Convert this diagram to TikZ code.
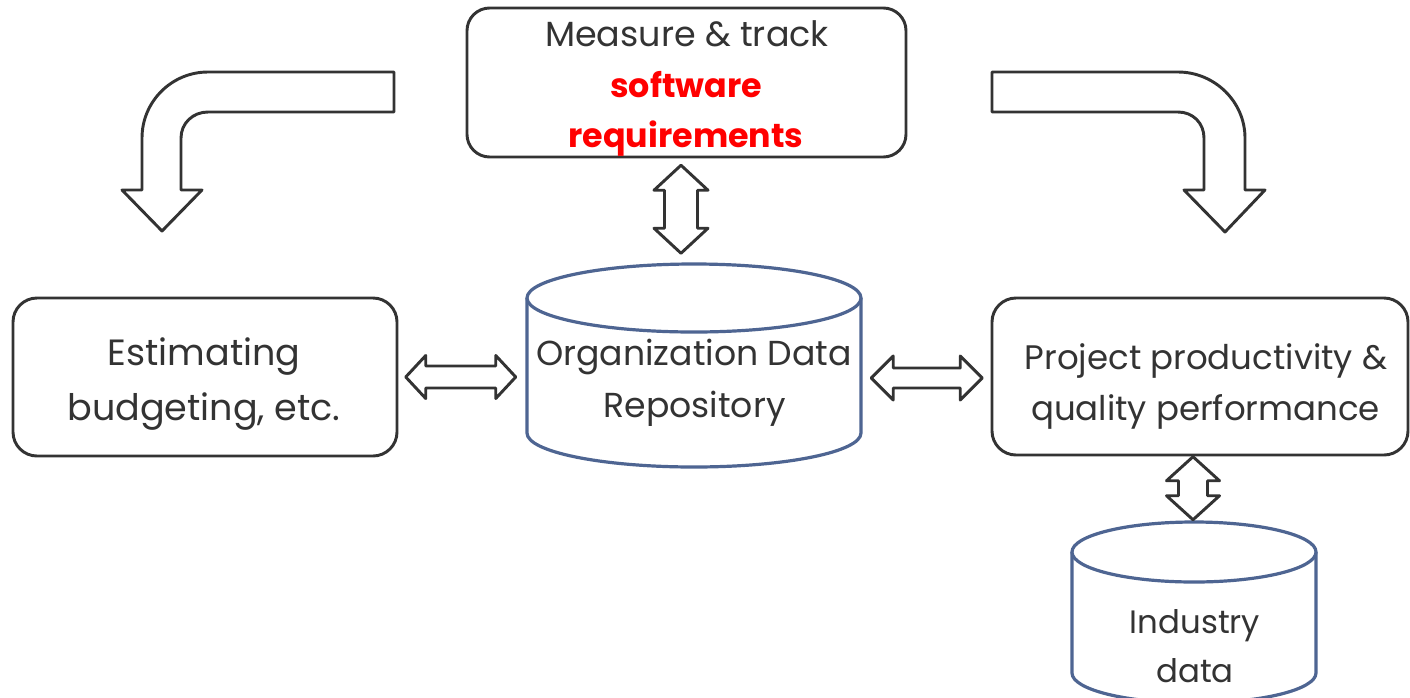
\documentclass[tikz,border=0pt]{standalone}
\usepackage{fontspec}
\setmainfont{Poppins}
\usetikzlibrary{calc}
\definecolor{ink}{HTML}{333333}
\definecolor{drum}{HTML}{4E6592}
\definecolor{hot}{HTML}{FF0000}

% hollow two-headed block arrow: centre, angle, half length, head length,
% head half-width, shaft half-width
\newcommand\twoway[6]{%
  \draw[hollow, shift={(#1)}, rotate=#2]
    (-#3,0) -- (-#3+#4,#5) -- (-#3+#4,#6) -- (#3-#4,#6) -- (#3-#4,#5) -- (#3,0)
    -- (#3-#4,-#5) -- (#3-#4,-#6) -- (-#3+#4,-#6) -- (-#3+#4,-#5) -- cycle;}

\begin{document}
\begin{tikzpicture}[x=0.75pt,y=-0.75pt,line join=round,
  frame/.style={draw=ink, line width=2.2pt, rounded corners=17pt, fill=white, inner sep=0pt},
  hollow/.style={draw=ink, line width=2.2pt, fill=white},
  drumline/.style={draw=drum, line width=2.4pt, fill=white},
  spot/.style={inner sep=0pt, outer sep=0pt},
  txt/.style={text=ink, inner sep=0pt, anchor=base},
  toplbl/.style={txt, font=\fontsize{26.2}{31}\selectfont},
  drumlbl/.style={txt, font=\fontsize{26}{31}\selectfont},
  leftlbl/.style={txt, font=\fontsize{27.4}{32}\selectfont},
  rightlbl/.style={txt, font=\fontsize{25.5}{31}\selectfont},
  indlbl/.style={txt, font=\fontsize{24.3}{30}\selectfont},
  hotlbl/.style={text=hot, inner sep=0pt, anchor=base, font=\fontsize{25}{30}\selectfont\bfseries}]

\useasboundingbox (0,0) rectangle (1410,697);
\fill[white] (0,0) rectangle (1410,697);
\clip (0,0) rectangle (1410,697);

% boxes
\node[frame, minimum width=329.25pt, minimum height=111.75pt] (track) at (686.5,82.5) {};
\node[frame, rounded corners=18pt, minimum width=288pt, minimum height=118.5pt] (est) at (205,377) {};
\node[frame, rounded corners=18pt, minimum width=312pt, minimum height=117.75pt] (perf) at (1200,376.5) {};

% extents of the two data stores
\node[spot, minimum width=250.5pt, minimum height=152.25pt] (repo) at (694,365.5) {};
\node[spot, minimum width=183pt, minimum height=135.75pt] (ind) at (1194,612.5) {};

% organisation repository drum
\draw[drumline] (527,298) -- (527,433)
  .. controls (527,451.8) and (601.8,467) .. (694,467)
  .. controls (786.2,467) and (861,451.8) .. (861,433) -- (861,298);
\draw[drumline] (694,298) ellipse[x radius=125.25pt, y radius=25.5pt];

% industry data drum
\draw[drumline] (1072,552) -- (1072,673)
  .. controls (1072,689.6) and (1126.6,703) .. (1194,703)
  .. controls (1261.4,703) and (1316,689.6) .. (1316,673) -- (1316,552);
\draw[drumline] (1194,552) ellipse[x radius=91.5pt, y radius=22.5pt];

% bent arrows
\draw[hollow] (394,72) -- (208,72)
  .. controls (171.55,72) and (142,101.55) .. (142,138)
  -- (142,190) -- (122,190) -- (162,231) -- (202,190) -- (181,190) -- (181,138)
  .. controls (181,123.09) and (193.09,112) .. (208,112)
  -- (394,112) -- cycle;
\draw[hollow] (992,72) -- (1178,72)
  .. controls (1214.45,72) and (1245,101.55) .. (1245,138)
  -- (1245,190) -- (1265,190) -- (1225,232) -- (1184,190) -- (1204,190) -- (1204,138)
  .. controls (1204,123.09) and (1192.91,112) .. (1178,112)
  -- (992,112) -- cycle;

% two-way links
\coordinate (m1) at ($(track.south)!0.5!(track.south |- repo.north) + (-5.5,-2)$);
\coordinate (m2) at ($(est.east)!0.5!(est.east -| repo.west) + (-2,0)$);
\coordinate (m3) at ($(perf.west)!0.5!(perf.west -| repo.east) + (1,1.5)$);
\coordinate (m4) at ($(perf.south)!0.5!(perf.south |- ind.north) + (-7,-1)$);
\twoway{m1}{90}{44}{25}{27}{16.5}
\twoway{m2}{0}{55}{20}{21.5}{11}
\twoway{m3}{0}{55.5}{22}{22}{10}
\twoway{m4}{90}{31.5}{24}{26.5}{14.5}

% labels
\node[toplbl] (t1) at (687,46) {Measure \& track};
\node[hotlbl] (t2) at (686,97) {software};
\node[hotlbl] (t3) at (686,147) {requirements};
\node[leftlbl] (e1) at (204,365) {Estimating};
\node[leftlbl] (e2) at (204,420) {budgeting, etc.};
\node[rightlbl] (p1) at (1206,369) {Project productivity \&};
\node[rightlbl] (p2) at (1205.5,420) {quality performance};
\node[drumlbl] (r1) at (694,365) {Organization Data};
\node[drumlbl] (r2) at (694.5,417) {Repository};
\node[indlbl] (i1) at (1195,633) {Industry};
\node[indlbl] (i2) at (1195,682) {data};
\end{tikzpicture}
\end{document}
